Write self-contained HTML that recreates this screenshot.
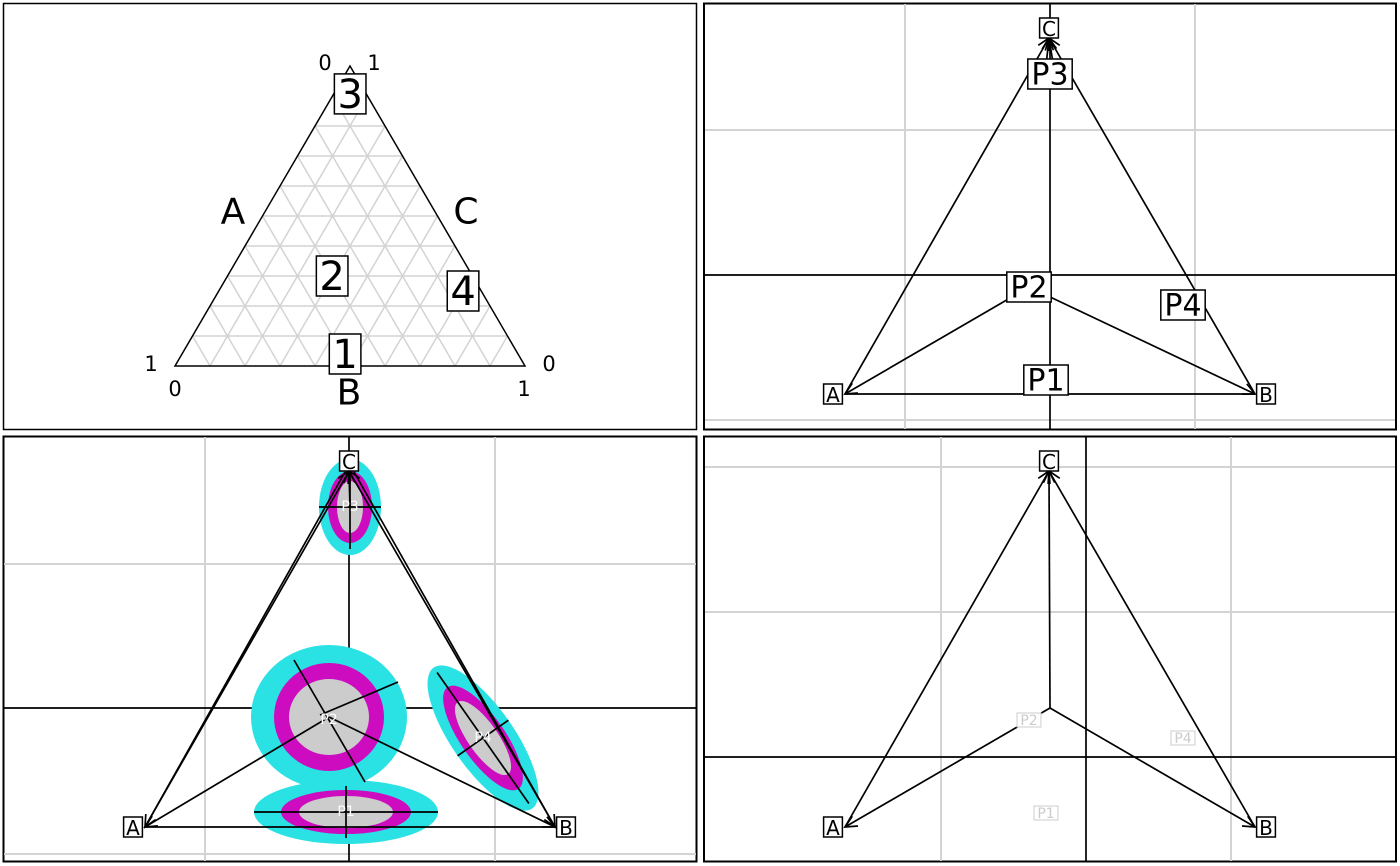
<!DOCTYPE html>
<html><head><meta charset="utf-8"><style>
body{margin:0;background:#fff}
svg{display:block;font-family:"DejaVu Sans","Liberation Sans",sans-serif}
</style></head><body>
<svg id="s" width="1400" height="866" viewBox="0 0 1400 866">
<g id="p1"><rect x="3.5" y="3.5" width="693" height="426" fill="#fff" stroke="#000" stroke-width="1.5"/></g>
<g id="p2"><rect x="704" y="3.5" width="692" height="426" fill="#fff" stroke="#000" stroke-width="2"/></g>
<g id="p3"><rect x="3.5" y="436.5" width="693" height="425" fill="#fff" stroke="#000" stroke-width="2"/></g>
<g id="p4"><rect x="704" y="436.5" width="692" height="425" fill="#fff" stroke="#000" stroke-width="2"/></g>
</svg>
<script>
// ternary point data (compositions A,B,C)
const pointLabels=["1","2","3","4"];
const compA=[0.494,0.401,0.046,0.052];
const compB=[0.466,0.299,0.047,0.698];
const compC=[0.040,0.300,0.907,0.250];
const NS="http://www.w3.org/2000/svg";
const svg=document.getElementById('s');
function el(t,a,p){const e=document.createElementNS(NS,t);for(const k in a)e.setAttribute(k,a[k]);(p||svg).appendChild(e);return e;}
function txt(x,y,s,size,p,fill){const t=el('text',{x:x,y:y,'font-size':size,'text-anchor':'middle','dominant-baseline':'central',fill:fill||'#000'},p);t.textContent=s;return t;}
function boxLabel(x,y,s,size,p,name,faded){
  const w=s.length*size*0.64+6,h=size*1.0;
  const r=el('rect',{x:x-w/2,y:y-h/2,width:w,height:h,fill:'#fff',stroke:faded?'#ccc':'#000','stroke-width':faded?1:1.5},p);
  const t=txt(x,y+1,s,size,p,faded?'#ccc':'#000');
  
  
  
  
}
// Panel 1 ternary
const g1=document.getElementById('p1');
const L=[175,366],R=[525,366],T=[350,66];
function tern(a,b,c){return [L[0]*a+R[0]*b+T[0]*c, L[1]*a+R[1]*b+T[1]*c];}
for(let i=1;i<10;i++){const f=i/10;
  let p=tern(1-f,0,f),q=tern(0,1-f,f);el('line',{x1:p[0],y1:p[1],x2:q[0],y2:q[1],stroke:'#d3d3d3','stroke-width':1.5},g1);
  p=tern(f,0,1-f);q=tern(f,1-f,0);el('line',{x1:p[0],y1:p[1],x2:q[0],y2:q[1],stroke:'#d3d3d3','stroke-width':1.5},g1);
  p=tern(0,f,1-f);q=tern(1-f,f,0);el('line',{x1:p[0],y1:p[1],x2:q[0],y2:q[1],stroke:'#d3d3d3','stroke-width':1.5},g1);}
el('polygon',{points:`${L} ${R} ${T}`,fill:'none',stroke:'#000','stroke-width':1.5},g1);
[[325,63,'0'],[374,63,'1'],[151,364,'1'],[175,389,'0'],[549,364,'0'],[524,389,'1']].forEach(d=>{const t=txt(d[0],d[1],d[2],21,g1);});
[[233,212,'A'],[466,212,'C'],[349,393,'B']].forEach(d=>{const t=txt(d[0],d[1],d[2],36,g1);});
for(let i=0;i<pointLabels.length;i++){const p=tern(compA[i],compB[i],compC[i]);boxLabel(p[0],p[1],pointLabels[i],40,g1,'ternary-point-'+pointLabels[i]);}
// Biplot common
function grid(p,vx,hy,x0,x1,y0,y1){vx.forEach(x=>el('line',{x1:x,y1:y0,x2:x,y2:y1,stroke:'#d3d3d3','stroke-width':2},p));hy.forEach(y=>el('line',{x1:x0,y1:y,x2:x1,y2:y,stroke:'#d3d3d3','stroke-width':2},p));}
function ln(p,a,b,arrow){
  const l=el('line',{x1:a[0],y1:a[1],x2:b[0],y2:b[1],stroke:'#000','stroke-width':1.7},p);
  if(arrow){const ang=Math.atan2(b[1]-a[1],b[0]-a[0]),s=13,w=0.45;
    const p1=[b[0]-s*Math.cos(ang-w),b[1]-s*Math.sin(ang-w)],p2=[b[0]-s*Math.cos(ang+w),b[1]-s*Math.sin(ang+w)];
    el('polyline',{points:`${p1} ${b} ${p2}`,fill:'none',stroke:'#000','stroke-width':1.7},p);}
  return l;}
// Panel 2
const g2=document.getElementById('p2');
grid(g2,[905,1195],[130,420],705,1395,4,429);
ln(g2,[1050,4],[1050,429]);ln(g2,[705,275],[1395,275]);
let A=[845,394],B=[1255,394],C=[1049,38],O=[1029,287];
ln(g2,A,B);ln(g2,A,C,1);ln(g2,B,C,1);ln(g2,[1045,75],C,1);ln(g2,[1055,75],C,1);ln(g2,O,A,1);ln(g2,O,B,1);
boxLabel(833,394,'A',20,g2,'vertex-label-a');boxLabel(1266,394,'B',20,g2,'vertex-label-b');boxLabel(1049,28,'C',20,g2,'vertex-label-c');
boxLabel(1050,74,'P3',30,g2,'point-label-p3');boxLabel(1029,287,'P2',30,g2,'point-label-p2');boxLabel(1183,305,'P4',30,g2,'point-label-p4');boxLabel(1046,380,'P1',30,g2,'point-label-p1');
// Panel 3
const g3=document.getElementById('p3');
grid(g3,[205,495],[564,854],4,696,437,861);
ln(g3,[349,437],[349,861]);ln(g3,[4,708],[696,708]);
const ells=[[350,507,31,48,22,36,13,26,0,'P3',1],[329,717,78,72,55,54,40,38,0,'P2',0],[483,738,31,86,22,62,15,44,-35,'P4',1],[346,812,92,32,65,22,47,16,0,'P1',1]];
ells.forEach(e=>{const g=el('g',{transform:`rotate(${e[8]} ${e[0]} ${e[1]})`},g3);
  
  
  el('ellipse',{cx:e[0],cy:e[1],rx:e[2],ry:e[3],fill:'#2ae1e4'},g);el('ellipse',{cx:e[0],cy:e[1],rx:e[4],ry:e[5],fill:'#cc0cbe'},g);el('ellipse',{cx:e[0],cy:e[1],rx:e[6],ry:e[7],fill:'#cccccc'},g);
  if(e[10]){el('line',{x1:e[0]-e[2],y1:e[1],x2:e[0]+e[2],y2:e[1],stroke:'#000','stroke-width':1.7},g);el('line',{x1:e[0],y1:e[1]-e[3]+6,x2:e[0],y2:e[1]+e[3]-6,stroke:'#000','stroke-width':1.7},g);}});
el('line',{x1:294,y1:660,x2:365,y2:782,stroke:'#000','stroke-width':1.7},g3);
el('line',{x1:320,y1:715,x2:398,y2:682,stroke:'#000','stroke-width':1.7},g3);
A=[145,827];B=[555,827];C=[349,471];O=[329,717];
ln(g3,A,B);ln(g3,A,C,1);ln(g3,B,C,1);ln(g3,O,A,1);ln(g3,O,B,1);ln(g3,[350,507],C,1);
ln(g3,[345,472],A,1);ln(g3,[354,472],B,1);
boxLabel(133,827,'A',20,g3,'vertex-label-a');boxLabel(566,827,'B',20,g3,'vertex-label-b');boxLabel(349,461,'C',20,g3,'vertex-label-c');
[[350,507,'P3'],[329,720,'P2'],[483,738,'P4'],[346,812,'P1']].forEach(d=>{const t=txt(d[0],d[1],d[2],14,g3,'#fff');});
// Panel 4
const g4=document.getElementById('p4');
grid(g4,[941,1231],[467,612],705,1395,437,861);
ln(g4,[1086,437],[1086,861]);ln(g4,[705,757],[1395,757]);
A=[845,827];B=[1255,827];C=[1049,471];O=[1050,708];
ln(g4,A,C,1);ln(g4,B,C,1);ln(g4,O,A,1);ln(g4,O,B,1);ln(g4,O,C,1);
boxLabel(833,827,'A',20,g4,'vertex-label-a');boxLabel(1266,827,'B',20,g4,'vertex-label-b');boxLabel(1049,461,'C',20,g4,'vertex-label-c');
boxLabel(1029,720,'P2',14,g4,'faded-label-p2',1);boxLabel(1183,738,'P4',14,g4,'faded-label-p4',1);boxLabel(1046,813,'P1',14,g4,'faded-label-p1',1);
</script>
</body></html>
